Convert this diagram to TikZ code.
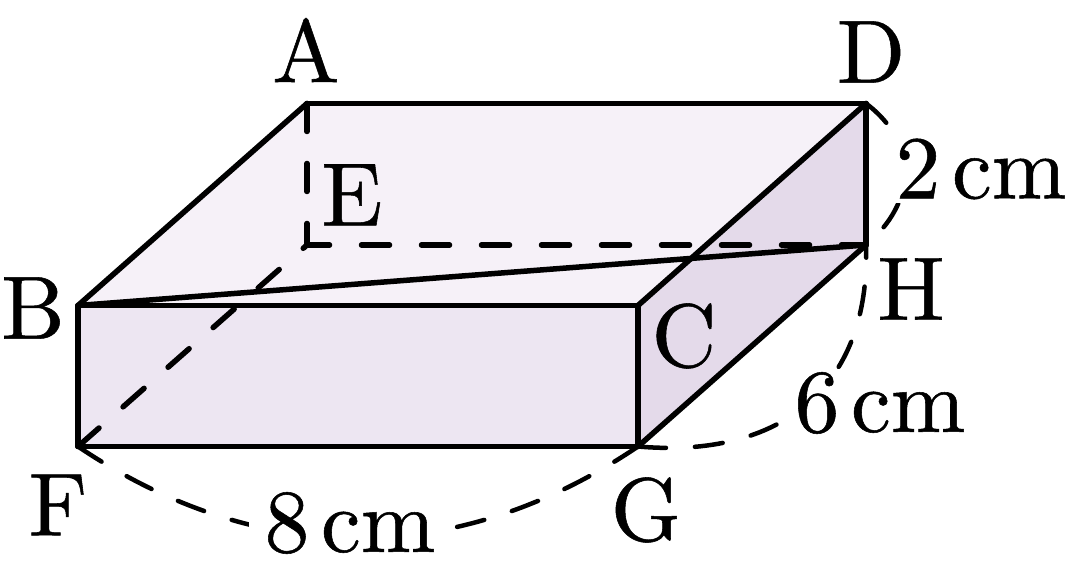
\documentclass[tikz,border=0pt]{standalone}
\usepackage{amsmath,amsthm}
\usepackage{fontspec}
\usepackage{tikz}
\definecolor{topface}{HTML}{F6F1F8}
\definecolor{frontface}{HTML}{EDE6F2}
\definecolor{sideface}{HTML}{E4DAEA}
\newfontfamily\cornerfont[Extension=.otf,FakeBold=0.6]{lmroman10-regular}
\begin{document}
\begin{tikzpicture}[x=0.1mm,y=-0.1mm,
    edgeline/.style={line width=0.55mm,line cap=round},
    hidden/.style={edgeline,dash pattern=on 2.8mm off 3.2mm},
    measure/.style={line width=0.45mm,line cap=round,dash pattern=on 2.8mm off 2.9mm},
    corner/.style={inner sep=0pt,font=\fontsize{25.5}{30}\cornerfont},
    length/.style={corner,fill=white,inner xsep=4.5pt,inner ysep=1pt}]
      \useasboundingbox (0,0) rectangle (1065,581);
      \coordinate (A) at (307,103.5);
      \coordinate (D) at (866,103.5);
      \coordinate (B) at (78,305.5);
      \coordinate (C) at (638,305.5);
      \coordinate (E) at (307,245);
      \coordinate (H) at (866,245);
      \coordinate (F) at (78,446.5);
      \coordinate (G) at (638,446.5);
      \fill[topface] (A) -- (D) -- (C) -- (B) -- cycle;
      \fill[frontface] (B) -- (C) -- (G) -- (F) -- cycle;
      \fill[sideface] (C) -- (D) -- (H) -- (G) -- cycle;
      \path
      (A) edge [hidden] (E)
      (E) edge [hidden,dash phase=0.55mm] (H)
      (F) edge [hidden] (E);
      \path
      (A) edge [edgeline] (D)
      (A) edge [edgeline] (B)
      (D) edge [edgeline] (C)
      (D) edge [edgeline] (H)
      (B) edge [edgeline] (C)
      (B) edge [edgeline] (H)
      (B) edge [edgeline] (F)
      (C) edge [edgeline] (G)
      (F) edge [edgeline] (G)
      (G) edge [edgeline] (H);
      \path
      (F) edge [measure,bend right=34] (G)
      (G) edge [measure,out=-5,in=-88,looseness=1.2] (H)
      (D) edge [measure,out=-37,in=40,looseness=1.2] (H);
      \node[corner] (labelA) at (306,50) {A};
      \node[corner] (labelD) at (871,52) {D};
      \node[corner] (labelE) at (352,195) {E};
      \node[corner] (labelB) at (33,308) {B};
      \node[corner] (labelC) at (684,336) {C};
      \node[corner] (labelH) at (911,289) {H};
      \node[corner] (labelF) at (58,505) {F};
      \node[corner] (labelG) at (646,510) {G};
      \node[length] (width) at (350,523) {8\kern0.13em cm};
      \node[length] (depth) at (880,403) {6\kern0.13em cm};
      \node[length] (height) at (981,169) {2\kern0.13em cm};
    \end{tikzpicture}
\end{document}
